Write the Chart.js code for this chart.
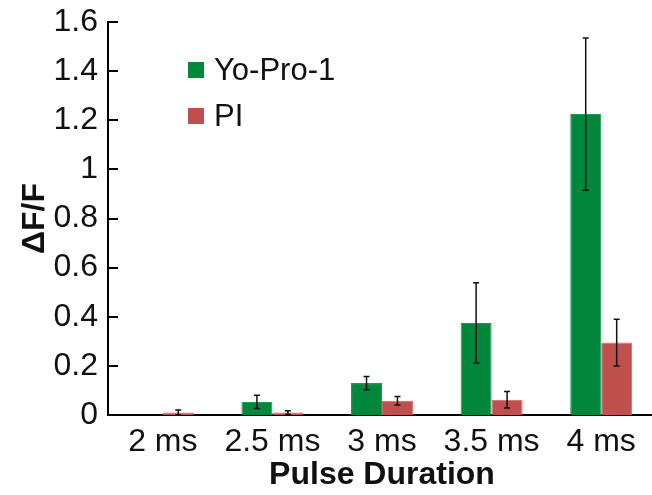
<!DOCTYPE html>
<html>
<head>
<meta charset="utf-8">
<script src="https://cdn.jsdelivr.net/npm/chart.js@4"></script>
<style>
  html, body { margin: 0; padding: 0; background: #fff; }
  #wrap { width: 652px; height: 495px; }
</style>
</head>
<body>
<div id="wrap"><canvas id="chart" width="652" height="495"></canvas></div>
<script>
const categories = ['2 ms', '2.5 ms', '3 ms', '3.5 ms', '4 ms'];
const yoProValues = [0, 0.053, 0.13, 0.375, 1.225];
const yoProErrors = [0, 0.027, 0.027, 0.163, 0.31];
const piValues = [0.01, 0.01, 0.058, 0.062, 0.295];
const piErrors = [0.01, 0.007, 0.017, 0.034, 0.095];
const yTicks = [0, 0.2, 0.4, 0.6, 0.8, 1, 1.2, 1.4, 1.6];
const yTickLabels = ['0', '0.2', '0.4', '0.6', '0.8', '1', '1.2', '1.4', '1.6'];

const FONT = "'Liberation Sans', Arial, sans-serif";

// the original plot runs a few pixels past the right edge of the image
const widenX = {
    id: 'widenX',
    afterLayout(chart) {
        const x = chart.scales.x;
        x.right += 4;
        x.width = x.right - x.left;
        x.configure();
    }
};

// error bars on top of every bar
const errorBars = {
    id: 'errorBars',
    afterDatasetsDraw(chart) {
        const ctx = chart.ctx;
        const y = chart.scales.y;
        chart.data.datasets.forEach((ds, i) => {
            const meta = chart.getDatasetMeta(i);
            meta.data.forEach((bar, j) => {
                const err = ds.errors[j];
                if (!err) return;
                const top = y.getPixelForValue(ds.data[j] + err);
                const bottom = y.getPixelForValue(Math.max(ds.data[j] - err, 0));
                ctx.save();
                ctx.strokeStyle = '#111';
                ctx.lineWidth = 1.5;
                ctx.beginPath();
                ctx.moveTo(bar.x, top);
                ctx.lineTo(bar.x, bottom);
                ctx.moveTo(bar.x - 3, top);
                ctx.lineTo(bar.x + 3, top);
                ctx.moveTo(bar.x - 3, bottom);
                ctx.lineTo(bar.x + 3, bottom);
                ctx.stroke();
                ctx.restore();
            });
        });
    }
};

// inward tick marks on the y axis
const innerTicks = {
    id: 'innerTicks',
    afterDraw(chart) {
        const ctx = chart.ctx;
        const y = chart.scales.y;
        const left = chart.chartArea.left;
        ctx.save();
        ctx.strokeStyle = '#000';
        ctx.lineWidth = 2;
        yTicks.forEach(v => {
            const py = Math.round(y.getPixelForValue(v));
            ctx.beginPath();
            ctx.moveTo(left, py);
            ctx.lineTo(left + 10, py);
            ctx.stroke();
        });
        ctx.restore();
    }
};

// legend inside the plot
const innerLegend = {
    id: 'innerLegend',
    afterDraw(chart) {
        const ctx = chart.ctx;
        ctx.save();
        ctx.font = '31px ' + FONT;
        ctx.textBaseline = 'middle';
        chart.data.datasets.forEach((ds, i) => {
            const cy = 70 + i * 46;
            ctx.fillStyle = ds.backgroundColor;
            ctx.fillRect(188, cy - 8, 16, 16);
            ctx.fillStyle = '#111';
            ctx.fillText(ds.label, 214, cy + 1);
        });
        ctx.restore();
    }
};

new Chart(document.getElementById('chart'), {
    type: 'bar',
    data: {
        labels: categories,
        datasets: [{
            label: 'Yo-Pro-1',
            data: yoProValues,
            errors: yoProErrors,
            backgroundColor: '#00873c',
            borderColor: '#1a9a50',
            borderWidth: 1,
            categoryPercentage: 0.565,
            barPercentage: 1
        }, {
            label: 'PI',
            data: piValues,
            errors: piErrors,
            backgroundColor: '#c0504d',
            borderColor: '#cc6a67',
            borderWidth: 1,
            categoryPercentage: 0.565,
            barPercentage: 1
        }]
    },
    options: {
        responsive: false,
        animation: false,
        devicePixelRatio: 1,
        layout: { padding: { top: 22, right: 0, left: 0, bottom: 0 } },
        plugins: {
            legend: { display: false },
            tooltip: { enabled: false }
        },
        scales: {
            x: {
                grid: { display: false, drawTicks: false },
                border: { display: true, color: '#000', width: 2 },
                ticks: { color: '#111', font: { family: FONT, size: 32 }, padding: 8, maxRotation: 0 },
                title: {
                    display: true,
                    text: 'Pulse Duration',
                    color: '#111',
                    font: { family: FONT, size: 32, weight: 'bold' },
                    padding: { top: 0, bottom: 1 }
                },
                afterFit(scale) { scale.height = 80; }
            },
            y: {
                min: 0,
                max: 1.6,
                afterBuildTicks(scale) { scale.ticks = yTicks.map(v => ({ value: v })); },
                grid: { display: false, drawTicks: false },
                border: { display: true, color: '#000', width: 2 },
                ticks: {
                    color: '#111',
                    font: { family: FONT, size: 32 },
                    padding: 10,
                    callback: (value, index) => yTickLabels[index]
                },
                title: {
                    display: true,
                    text: 'ΔF/F',
                    color: '#111',
                    font: { family: FONT, size: 32, weight: 'bold' },
                    padding: { top: 16, bottom: 0 }
                },
                afterFit(scale) {
                    scale.width = 108;
                    scale.paddingTop = 0;
                    scale.paddingBottom = 0;
                }
            }
        }
    },
    plugins: [widenX, errorBars, innerTicks, innerLegend]
});
</script>
</body>
</html>
